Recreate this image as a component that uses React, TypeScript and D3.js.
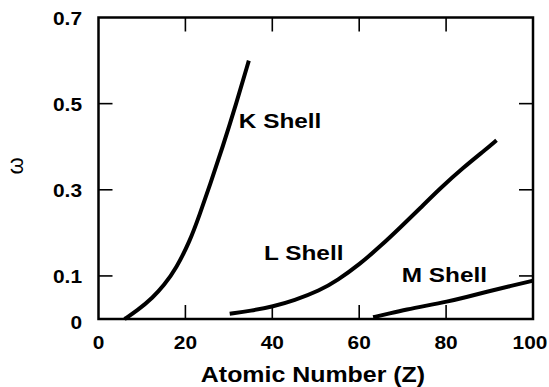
import React from "react";
import * as d3 from "d3";

// K shell fluorescence yield
const kZ = [6, 9, 12.5, 15, 17.9, 21, 23.3, 25.6, 28.6, 31.7, 34.6];
const kW = [0, 0.02, 0.05, 0.077, 0.118, 0.18, 0.243, 0.31, 0.4, 0.5, 0.6];

// L shell
const lZ = [30.2, 35, 40.2, 45, 50.9, 55, 60.1, 65, 69.4, 74, 78.6, 84, 89.3, 91.6];
const lW = [0.012, 0.019, 0.029, 0.043, 0.066, 0.09, 0.127, 0.17, 0.212, 0.257, 0.303, 0.352, 0.395, 0.415];

// M shell
const mZ = [63.2, 67, 70.9, 75.5, 80.1, 84.7, 89.3, 94.6, 100];
const mW = [0.004, 0.013, 0.022, 0.031, 0.04, 0.051, 0.063, 0.076, 0.089];

const xTickLabels = [0, 20, 40, 60, 80, 100];
const xTicks = [20, 40, 60, 80];
const yTickLabels = [0, 0.1, 0.3, 0.5, 0.7];
const yTicks = [0.1, 0.3, 0.5];

const W = 549;
const H = 387;
const FONT = "'Liberation Sans', Arial, Helvetica, sans-serif";
const SX = 1.16; // the scan is stretched sideways

export default function App() {
  const x = d3.scaleLinear().domain([0, 100]).range([98.5, 533]);
  const y = d3.scaleLinear().domain([0, 0.7]).range([319, 17.5]);
  const [x0, x1] = x.range();
  const [y0, y1] = y.range();

  const line = d3
    .line<[number, number]>()
    .x((d) => x(d[0]))
    .y((d) => y(d[1]))
    .curve(d3.curveBasis);

  const series = [
    { name: "K Shell", z: kZ, w: kW, lx: 32.3, ly: 0.444 },
    { name: "L Shell", z: lZ, w: lW, lx: 38.1, ly: 0.137 },
    { name: "M Shell", z: mZ, w: mW, lx: 69.8, ly: 0.085 },
  ];

  const tickLen = 14;

  return (
    <svg
      width={W}
      height={H}
      style={{ position: "absolute", left: 0, top: 0, background: "#fff" }}
      fontFamily={FONT}
    >
      {/* curves */}
      {series.map((s) => (
        <path
          key={s.name}
          d={line(s.z.map((z, i) => [z, s.w[i]] as [number, number])) || ""}
          fill="none"
          stroke="#000"
          strokeWidth={4}
        />
      ))}

      {/* frame */}
      <rect
        x={x0}
        y={y1}
        width={x1 - x0}
        height={y0 - y1}
        fill="none"
        stroke="#000"
        strokeWidth={2.5}
      />

      {/* ticks, all pointing inward */}
      {xTicks.map((t) => (
        <g key={"xt" + t} stroke="#000" strokeWidth={1.6}>
          <line x1={x(t)} x2={x(t)} y1={y0} y2={y0 - tickLen} />
          <line x1={x(t)} x2={x(t)} y1={y1} y2={y1 + tickLen} />
        </g>
      ))}
      {yTicks.map((t) => (
        <g key={"yt" + t} stroke="#000" strokeWidth={1.6}>
          <line x1={x0} x2={x0 + tickLen} y1={y(t)} y2={y(t)} />
          <line x1={x1} x2={x1 - tickLen} y1={y(t)} y2={y(t)} />
        </g>
      ))}

      {/* tick labels */}
      {xTickLabels.map((t) => (
        <text
          key={"xl" + t}
          transform={`translate(${x(t) - (t === 100 ? 3 : 0)},349) scale(${SX},1)`}
          textAnchor="middle"
          fontSize={18}
          fontWeight="bold"
        >
          {t}
        </text>
      ))}
      {yTickLabels.map((t) => (
        <text
          key={"yl" + t}
          transform={`translate(82,${y(t) + (t === 0 ? 10 : 7.5)}) scale(${SX},1)`}
          textAnchor="end"
          fontSize={18}
          fontWeight="bold"
        >
          {t}
        </text>
      ))}

      {/* shell labels */}
      {series.map((s) => (
        <text
          key={"lab" + s.name}
          transform={`translate(${x(s.lx)},${y(s.ly)}) scale(${SX},1)`}
          fontSize={21}
          fontWeight="bold"
        >
          {s.name}
        </text>
      ))}

      {/* axis titles */}
      <text
        transform={`translate(313,381.5) scale(${SX},1)`}
        textAnchor="middle"
        fontSize={21.5}
        fontWeight="bold"
      >
        Atomic Number (Z)
      </text>
      <text
        transform="translate(23,166) rotate(-90)"
        textAnchor="middle"
        fontSize={22}
      >
        ω
      </text>
    </svg>
  );
}
